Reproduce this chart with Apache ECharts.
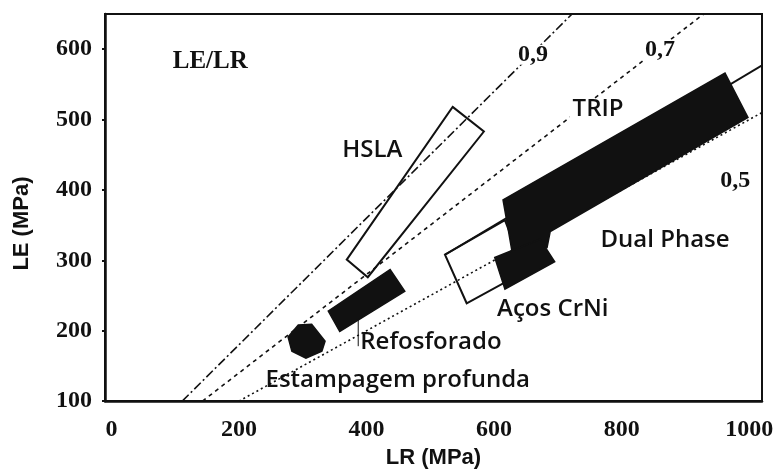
<!DOCTYPE html>
<html>
<head>
<meta charset="utf-8">
<script src="https://cdn.jsdelivr.net/npm/echarts@6/dist/echarts.min.js"></script>
<style>
  html, body { margin: 0; padding: 0; background: #fff; }
  #chart { width: 779px; height: 474px; }
</style>
</head>
<body>
<div id="chart"></div>
<script>
// Axis ticks (MPa)
const xTicks = [0, 200, 400, 600, 800, 1000];
const yTicks = [100, 200, 300, 400, 500, 600];

// Constant LE/LR ratio lines
const ratios = [0.9, 0.7, 0.5];
const ratioNames = ['0,9', '0,7', '0,5'];
const ratioLabelPos = [[661, 592], [860, 599], [978, 413]];

// Steel grade regions, vertices as [LR, LE] in MPa
const hslaBox = [[535, 518], [584, 483], [402, 276], [369, 301]];
const estampagemBlob = [[277, 191], [293, 208], [314, 209], [335, 185], [330, 171], [305, 161], [283, 171]];
const refosforadoBlock = [[340, 228], [437, 287], [460, 256], [358, 199]];
const tripBlock = [[614, 386], [962, 566], [998, 503], [688, 341], [683, 318], [628, 313], [620, 355]];
const crniBlock = [[601, 304], [672, 330], [695, 298], [617, 259]];
const crniBox = [[523, 308], [617, 357], [648, 284], [557, 239]];
const dualPhaseEdge = [[523, 308], [1020, 577]];
const refosforadoLeader = [[387, 216], [387, 178]];

// Region labels [LR, LE, text]
const gradeLabels = [
  [409, 457, 'HSLA'],
  [763, 515, 'TRIP'],
  [868, 328, 'Dual Phase'],
  [692, 230, 'Aços CrNi'],
  [501, 184, 'Refosforado'],
  [449, 130, 'Estampagem profunda']
];
const titleLabel = [155, 582, 'LE/LR'];

const X_MIN = -10, X_MAX = 1020, Y_MIN = 100, Y_MAX = 650;
const INK = '#111';
const SERIF = '"Liberation Serif", "Times New Roman", serif';
const SANS = '"Open Sans", "Noto Sans", sans-serif';
const ARIAL = '"Liberation Sans", Arial, sans-serif';

// Ratio line from the bottom edge up to where it leaves the plot
function ratioLine(r) {
  const x0 = Y_MIN / r;
  const x1 = Math.min(X_MAX, Y_MAX / r);
  return [[x0, r * x0], [x1, r * x1]];
}
const dashes = [[9, 3, 2, 3], [4, 4], [2, 3]];

function polygonSeries(points, filled, z) {
  return {
    type: 'custom',
    coordinateSystem: 'cartesian2d',
    silent: true,
    z: z,
    data: [[points[0][0], points[0][1]]],
    renderItem: function (params, api) {
      return {
        type: 'polygon',
        shape: { points: points.map(p => api.coord(p)) },
        style: filled
          ? { fill: INK, stroke: INK, lineWidth: 1.5 }
          : { fill: 'none', stroke: INK, lineWidth: 2 }
      };
    }
  };
}

const series = [];
ratios.forEach((r, i) => {
  series.push({
    type: 'line', data: ratioLine(r), symbol: 'none', silent: true, z: 2,
    lineStyle: { color: INK, width: 1.6, type: dashes[i] }
  });
});
series.push({
  type: 'line', data: dualPhaseEdge, symbol: 'none', silent: true, z: 2,
  lineStyle: { color: INK, width: 1.8 }
});
series.push({
  type: 'line', data: refosforadoLeader, symbol: 'none', silent: true, z: 2,
  lineStyle: { color: INK, width: 1 }
});
series.push(polygonSeries(hslaBox, false, 3));
series.push(polygonSeries(crniBox, false, 3));
series.push(polygonSeries(estampagemBlob, true, 4));
series.push(polygonSeries(refosforadoBlock, true, 4));
series.push(polygonSeries(tripBlock, true, 4));
series.push(polygonSeries(crniBlock, true, 4));

// Text annotations: [LR, LE, text, font, white knock-out behind the text]
const texts = [];
gradeLabels.forEach(g => texts.push([g[0], g[1], g[2], '600 24px ' + SANS, g[2] === 'TRIP']));
ratioNames.forEach((n, i) => texts.push([ratioLabelPos[i][0], ratioLabelPos[i][1], n, 'bold 24px ' + SERIF, true]));
texts.push([titleLabel[0], titleLabel[1], titleLabel[2], 'bold 25px ' + SERIF, false]);

series.push({
  type: 'custom',
  coordinateSystem: 'cartesian2d',
  silent: true,
  z: 10,
  data: texts.map((t, i) => [t[0], t[1], i]),
  renderItem: function (params, api) {
    const t = texts[api.value(2)];
    const p = api.coord([api.value(0), api.value(1)]);
    const children = [];
    if (t[4]) {
      const rect = echarts.format.getTextRect
        ? echarts.format.getTextRect(t[2], t[3])
        : { width: t[2].length * 13, height: 22 };
      const w = rect.width + 6, h = 20;
      children.push({
        type: 'rect',
        shape: { x: p[0] - w / 2, y: p[1] - h / 2, width: w, height: h },
        style: { fill: '#fff' }
      });
    }
    children.push({
      type: 'text',
      style: {
        text: t[2], x: p[0], y: p[1], font: t[3], fill: INK,
        align: 'center', verticalAlign: 'middle'
      }
    });
    return { type: 'group', children: children };
  }
});

const chart = echarts.init(document.getElementById('chart'), null, { renderer: 'canvas' });
chart.setOption({
  animation: false,
  backgroundColor: '#fff',
  grid: { left: 105, right: 17, top: 14, bottom: 72, show: true, borderColor: INK, borderWidth: 2 },
  xAxis: {
    type: 'value', min: X_MIN, max: X_MAX,
    name: 'LR (MPa)', nameLocation: 'middle', nameGap: 45,
    nameTextStyle: { fontFamily: ARIAL, fontWeight: 'bold', fontSize: 22, color: INK },
    axisLine: { onZero: false, lineStyle: { color: INK, width: 2.5 } },
    axisTick: { show: false },
    splitLine: { show: false },
    axisLabel: {
      customValues: xTicks, margin: 17, formatter: v => String(v),
      fontFamily: SERIF, fontWeight: 'bold', fontSize: 24, color: INK
    }
  },
  yAxis: {
    type: 'value', min: Y_MIN, max: Y_MAX,
    name: 'LE (MPa)', nameLocation: 'middle', nameGap: 72, nameRotate: 90,
    nameTextStyle: { fontFamily: ARIAL, fontWeight: 'bold', fontSize: 22, color: INK, padding: [0, 32, 0, 0] },
    axisLine: { onZero: false, lineStyle: { color: INK, width: 2.5 } },
    axisTick: { show: true, customValues: yTicks, length: 3, lineStyle: { color: INK, width: 2 } },
    splitLine: { show: false },
    axisLabel: {
      customValues: yTicks, margin: 13, formatter: v => String(v),
      fontFamily: SERIF, fontWeight: 'bold', fontSize: 24, color: INK
    }
  },
  series: series
});
</script>
</body>
</html>
